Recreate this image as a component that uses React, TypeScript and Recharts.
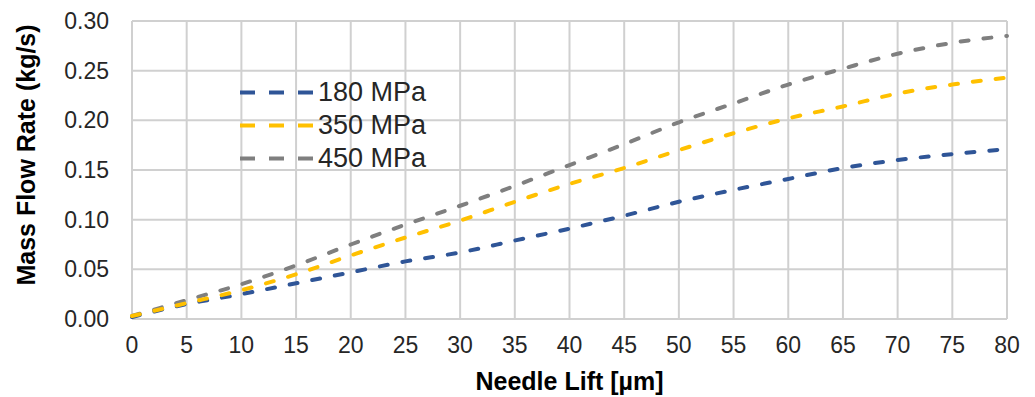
import {
  CartesianGrid,
  Legend,
  Line,
  LineChart,
  XAxis,
  YAxis,
} from "recharts";

// needle lift in µm
const needleLift = [0, 5, 10, 15, 20, 25, 30, 35, 40, 45, 50, 55, 60, 65, 70, 75, 80];

// mass flow rate in kg/s
const flow180 = [0.002, 0.015, 0.025, 0.036, 0.047, 0.058, 0.067, 0.079, 0.091, 0.104, 0.118, 0.13, 0.141, 0.152, 0.16, 0.166, 0.171];
const flow350 = [0.003, 0.016, 0.029, 0.045, 0.064, 0.082, 0.099, 0.118, 0.136, 0.152, 0.17, 0.187, 0.202, 0.214, 0.227, 0.236, 0.243];
const flow450 = [0.003, 0.019, 0.035, 0.054, 0.075, 0.095, 0.114, 0.134, 0.155, 0.176, 0.198, 0.217, 0.236, 0.252, 0.267, 0.278, 0.285];

const xTicks = [0, 5, 10, 15, 20, 25, 30, 35, 40, 45, 50, 55, 60, 65, 70, 75, 80];
const yTicks = [0, 0.05, 0.1, 0.15, 0.2, 0.25, 0.3];

const seriesNames = ["180 MPa", "350 MPa", "450 MPa"];
const seriesColors = ["#2f5597", "#ffc000", "#7f7f7f"];

const data = needleLift.map((x, i) => ({
  lift: x,
  p180: flow180[i],
  p350: flow350[i],
  p450: flow450[i],
}));

const font = "'Liberation Sans', Arial, sans-serif";
const dash = "8 15";

function LegendBox() {
  return (
    <div style={{ fontFamily: font, fontSize: 27, color: "#262626" }}>
      {seriesNames.map((name, i) => (
        <div key={name} style={{ display: "flex", alignItems: "center", height: 33 }}>
          <svg width={73} height={33} style={{ display: "block" }}>
            <line
              x1={0}
              y1={16.5}
              x2={73}
              y2={16.5}
              stroke={seriesColors[i]}
              strokeWidth={4}
              strokeDasharray="15 14"
            />
          </svg>
          <span style={{ marginLeft: 5, lineHeight: "33px" }}>{name}</span>
        </div>
      ))}
    </div>
  );
}

export default function App() {
  return (
    <div style={{ width: 1019, height: 389 }}>
      <LineChart
        width={1019}
        height={389}
        data={data}
        margin={{ top: 13, right: 20, bottom: 0, left: 0 }}
      >
        <CartesianGrid stroke="#d0d0d0" strokeWidth={2} />
        <XAxis
          dataKey="lift"
          type="number"
          domain={[0, 80]}
          ticks={xTicks}
          height={78}
          tickSize={0}
          tickMargin={18}
          axisLine={false}
          tick={{ fill: "#262626", fontSize: 23, fontFamily: font }}
          label={{
            value: "Needle Lift [µm]",
            position: "insideBottom",
            offset: 7,
            fill: "#000",
            fontSize: 25,
            fontWeight: 700,
            fontFamily: font,
          }}
        />
        <YAxis
          type="number"
          domain={[0, 0.3]}
          ticks={yTicks}
          width={124}
          tickSize={0}
          tickMargin={23}
          axisLine={false}
          tickFormatter={(v: number) => v.toFixed(2)}
          tick={{ fill: "#262626", fontSize: 23, fontFamily: font }}
          label={{
            content: (props: any) => {
              const vb = props.viewBox;
              const cx = vb.x + 18;
              const cy = vb.y + vb.height / 2 - 15;
              return (
                <text
                  x={cx}
                  y={cy}
                  transform={`rotate(-90, ${cx}, ${cy})`}
                  textAnchor="middle"
                  dominantBaseline="central"
                  fontSize={25}
                  fontWeight={700}
                  fontFamily={font}
                  fill="#000"
                >
                  Mass Flow Rate (kg/s)
                </text>
              );
            },
          }}
        />
        <Legend
          layout="vertical"
          align="center"
          verticalAlign="middle"
          content={() => <LegendBox />}
          wrapperStyle={{ position: "absolute", left: 232, top: 68, width: "auto", height: "auto" }}
        />
        <Line
          type="monotone"
          dataKey="p450"
          name={seriesNames[2]}
          stroke={seriesColors[2]}
          strokeWidth={4}
          strokeDasharray={dash}
          strokeLinecap="round"
          dot={false}
          isAnimationActive={false}
        />
        <Line
          type="monotone"
          dataKey="p180"
          name={seriesNames[0]}
          stroke={seriesColors[0]}
          strokeWidth={4}
          strokeDasharray={dash}
          strokeLinecap="round"
          dot={false}
          isAnimationActive={false}
        />
        <Line
          type="monotone"
          dataKey="p350"
          name={seriesNames[1]}
          stroke={seriesColors[1]}
          strokeWidth={4}
          strokeDasharray={dash}
          strokeLinecap="round"
          dot={false}
          isAnimationActive={false}
        />
      </LineChart>
    </div>
  );
}
